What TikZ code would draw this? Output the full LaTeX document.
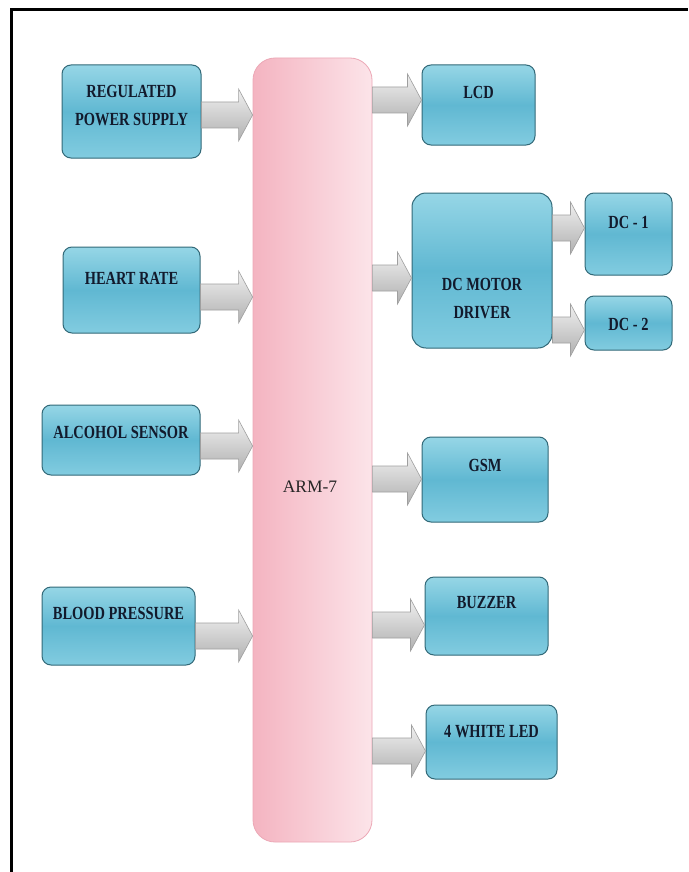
\documentclass[tikz,border=0pt]{standalone}
\usepackage{fontspec}
\usetikzlibrary{calc,shadings}
\newfontfamily\lblfont[FakeStretch=0.78]{Liberation Serif}
\newfontfamily\armfont{Liberation Serif}
\definecolor{boxtop}{RGB}{150,214,230}
\definecolor{boxmid}{RGB}{96,184,210}
\definecolor{boxbot}{RGB}{130,204,224}
\definecolor{boxedge}{RGB}{50,105,120}
\definecolor{txt}{RGB}{18,26,44}
\definecolor{pinkL}{RGB}{244,180,193}
\definecolor{pinkR}{RGB}{252,228,233}
\definecolor{pinkedge}{RGB}{236,168,182}
\tikzset{
  blk/.style={rectangle, rounded corners=9pt, top color=boxtop, bottom color=boxbot, middle color=boxmid, draw=boxedge, line width=1pt, inner sep=0pt},
  lbl/.style={font=\lblfont\bfseries\fontsize{18.5}{28}\selectfont, text=txt, align=center, inner sep=0pt},
  armbox/.style={rectangle, rounded corners=22pt, left color=pinkL, right color=pinkR, draw=pinkedge, line width=0.8pt, inner sep=0pt},
  armlbl/.style={font=\armfont\fontsize{17.5}{20}\selectfont, text=black!85, inner sep=0pt},
  barrowst/.style={top color=gray!12, bottom color=gray!62, draw=gray!75, line width=0.6pt},
}
\newcommand\barrow[3]{%
  \path[barrowst] let \p1=(#1), \p2=(#2) in
   (\x1,{-#3pt+13pt}) -- ({\x2-14pt},{-#3pt+13pt}) -- ({\x2-14pt},{-#3pt+26pt})
   -- (\x2,{-#3pt}) -- ({\x2-14pt},{-#3pt-26pt}) -- ({\x2-14pt},{-#3pt-13pt})
   -- (\x1,{-#3pt-13pt}) -- cycle;}
\begin{document}
\begin{tikzpicture}[x=1pt,y=1pt]
\useasboundingbox (0,0) rectangle (688,-872);
\fill[white] (0,0) rectangle (688,-872);
\draw[line width=3pt] (11.5,-872) -- (11.5,-9.5) -- (688,-9.5);

% central controller
\node[armbox, minimum width=119pt, minimum height=784pt] (arm) at (312.5,-450) {};
\node[armlbl] (armt) at (310,-487) {ARM-7};

% inputs
\node[blk, minimum width=139pt, minimum height=93pt] (rps) at (131.5,-111.5) {};
\node[lbl] (rpst) at (131.5,-105.5) {REGULATED\\POWER SUPPLY};
\node[blk, minimum width=137pt, minimum height=86pt] (hr) at (131.5,-290) {};
\node[lbl] (hrt) at (131.5,-278) {HEART RATE};
\node[blk, minimum width=158pt, minimum height=70pt] (alc) at (121,-440) {};
\node[lbl] (alct) at (121,-432) {ALCOHOL SENSOR};
\node[blk, minimum width=153pt, minimum height=78pt] (bp) at (118.5,-626) {};
\node[lbl] (bpt) at (118.5,-613) {BLOOD PRESSURE};

% outputs
\node[blk, minimum width=113pt, minimum height=80pt] (lcd) at (478.5,-105) {};
\node[lbl] (lcdt) at (478.5,-92) {LCD};
\node[blk, minimum width=140pt, minimum height=155pt, rounded corners=14pt] (dcm) at (482,-270.5) {};
\node[lbl] (dcmt) at (482,-299) {DC MOTOR\\DRIVER};
\node[blk, minimum width=87pt, minimum height=82pt] (dc1) at (628.5,-234) {};
\node[lbl] (dc1t) at (628.5,-222) {DC - 1};
\node[blk, minimum width=87pt, minimum height=54pt] (dc2) at (628.5,-323) {};
\node[lbl] (dc2t) at (628.5,-324) {DC - 2};
\node[blk, minimum width=126pt, minimum height=85pt] (gsm) at (485,-479.5) {};
\node[lbl] (gsmt) at (485,-465) {GSM};
\node[blk, minimum width=123pt, minimum height=78pt] (bz) at (486.5,-616) {};
\node[lbl] (bzt) at (486.5,-603) {BUZZER};
\node[blk, minimum width=131pt, minimum height=74pt] (led) at (491.5,-742) {};
\node[lbl] (ledt) at (491.5,-732) {4 WHITE LED};

% block arrows
\barrow{rps.east}{arm.west}{115}
\barrow{hr.east}{arm.west}{297}
\barrow{alc.east}{arm.west}{446}
\barrow{bp.east}{arm.west}{636}
\barrow{arm.east}{lcd.west}{100}
\barrow{arm.east}{dcm.west}{278}
\barrow{dcm.east}{dc1.west}{228}
\barrow{dcm.east}{dc2.west}{330}
\barrow{arm.east}{gsm.west}{479}
\barrow{arm.east}{bz.west}{625}
\barrow{arm.east}{led.west}{751}
\end{tikzpicture}
\end{document}
